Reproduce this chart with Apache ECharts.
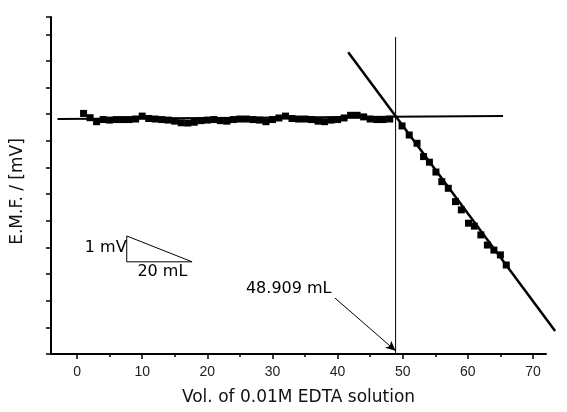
<!DOCTYPE html>
<html>
<head>
<meta charset="utf-8">
<script src="https://cdn.jsdelivr.net/npm/echarts@6/dist/echarts.min.js"></script>
<style>
  html, body { margin: 0; padding: 0; background: #fff; }
  #chart { width: 567px; height: 412px; }
</style>
</head>
<body>
<div id="chart"></div>
<script>
// Titration readings: volume of EDTA added (mL) and relative E.M.F. (mV)
const plateauVol = [1, 2, 3, 4, 5, 6, 7, 8, 9, 10, 11, 12, 13, 14, 15, 16, 17, 18, 19, 20,
  21, 22, 23, 24, 25, 26, 27, 28, 29, 30, 31, 32, 33, 34, 35, 36, 37, 38, 39, 40,
  41, 42, 43, 44, 45, 46, 47, 48];
const plateauEmf = [9.03, 8.87, 8.72, 8.80, 8.78, 8.80, 8.80, 8.80, 8.82, 8.93,
  8.84, 8.82, 8.80, 8.78, 8.74, 8.68, 8.67, 8.70, 8.76, 8.78,
  8.80, 8.76, 8.74, 8.80, 8.82, 8.82, 8.80, 8.78, 8.72, 8.80,
  8.86, 8.93, 8.84, 8.82, 8.82, 8.80, 8.74, 8.72, 8.78, 8.80,
  8.86, 8.96, 8.96, 8.90, 8.82, 8.80, 8.80, 8.82];
const fallVol = [49.9, 51.0, 52.2, 53.2, 54.1, 55.1, 56.0, 57.0, 58.1, 59.0,
  60.1, 61.0, 62.0, 63.0, 64.0, 65.0, 65.9];
const fallEmf = [8.56, 8.22, 7.91, 7.41, 7.20, 6.83, 6.47, 6.22, 5.72, 5.41,
  4.91, 4.80, 4.47, 4.09, 3.90, 3.72, 3.34];

// Fitted straight lines before and after the end point
const plateauFit = [[-3, 8.82], [65.4, 8.93]];
const fallFit = [[41.63, 11.33], [73.4, 0.86]];

// End point
const endPointVol = 48.909;
const endPointLine = [[endPointVol, 0], [endPointVol, 11.9]];
const endPointArrow = [[39.6, 2.1], [endPointVol, 0.12]];
const endPointLabel = [32.5, 2.45, '48.909 mL'];

// Scale triangle
const scaleTriangle = [[7.63, 4.43], [7.63, 3.46], [17.66, 3.46], [7.63, 4.43]];
const scaleLabels = [[4.4, 3.97, '1 mV'], [13.1, 3.09, '20 mL']];

// Axis ticks
const xMajorTicks = [0, 10, 20, 30, 40, 50, 60, 70];
const xMinorTicks = [5, 15, 25, 35, 45, 55, 65];
const yTicks = [0, 1, 2, 3, 4, 5, 6, 7, 8, 9, 10, 11, 12, 12.65];

const pair = (xs, ys) => xs.map((x, i) => [x, ys[i]]);
const black = '#000';
const font = 'DejaVu Sans';

// Plot area geometry; a second, wider overlay grid keeps the same mL/px scale
// so the fitted descending line can run past the end of the drawn axis.
const W = 567, H = 412;
const plot = { left: 51, right: 21, top: 17, bottom: 58 };
const xMin = -4, xMax = 72, yMax = 12.65;
const mlPerPx = (xMax - xMin) / (W - plot.left - plot.right);
const overlayMax = xMin + (W - plot.left) * mlPerPx;

const hiddenAxis = {
  axisLine: { show: false }, axisTick: { show: false },
  axisLabel: { show: false }, splitLine: { show: false }
};

const chart = echarts.init(document.getElementById('chart'), null, { renderer: 'canvas' });

chart.setOption({
  animation: false,
  backgroundColor: '#fff',
  grid: [
    Object.assign({ containLabel: false }, plot),
    { left: plot.left, right: 0, top: plot.top, bottom: plot.bottom, containLabel: false }
  ],
  xAxis: [{
    type: 'value', min: xMin, max: xMax,
    name: 'Vol. of 0.01M EDTA solution',
    nameLocation: 'middle', nameGap: 35,
    nameTextStyle: { fontFamily: font, fontSize: 17, color: '#111' },
    axisLine: { show: true, onZero: false, lineStyle: { color: black, width: 2 } },
    axisTick: { show: true, customValues: xMajorTicks, length: 5, lineStyle: { color: black, width: 1.5 } },
    axisLabel: { show: true, customValues: xMajorTicks, margin: 11,
      fontFamily: 'Liberation Sans', fontSize: 14, color: '#222' },
    splitLine: { show: false }
  }, {
    type: 'value', min: xMin, max: xMax, position: 'bottom',
    axisLine: { show: false },
    axisTick: { show: true, customValues: xMinorTicks, length: 3, lineStyle: { color: black, width: 1.5 } },
    axisLabel: { show: false },
    splitLine: { show: false }
  }, Object.assign({
    type: 'value', gridIndex: 1, min: xMin, max: overlayMax
  }, hiddenAxis)],
  yAxis: [{
    type: 'value', min: 0, max: yMax,
    name: 'E.M.F. / [mV]',
    nameLocation: 'middle', nameGap: 25, nameRotate: 90,
    nameTextStyle: { fontFamily: font, fontSize: 17, color: '#111', padding: [0, 0, 0, -12] },
    axisLine: { show: true, onZero: false, lineStyle: { color: black, width: 2 } },
    axisTick: { show: true, customValues: yTicks, length: 5, lineStyle: { color: black, width: 1.5 } },
    axisLabel: { show: false },
    splitLine: { show: false }
  }, Object.assign({
    type: 'value', gridIndex: 1, min: 0, max: yMax
  }, hiddenAxis)],
  series: [
    {
      type: 'line', data: plateauFit, showSymbol: false, silent: true, clip: false,
      lineStyle: { color: black, width: 2 }
    },
    {
      type: 'line', data: fallFit, xAxisIndex: 2, yAxisIndex: 1,
      showSymbol: false, silent: true, clip: false,
      lineStyle: { color: black, width: 2.5 }
    },
    {
      type: 'line', data: endPointLine, showSymbol: false, silent: true,
      lineStyle: { color: black, width: 1 },
      markLine: {
        silent: true, symbol: ['none', 'arrow'], symbolSize: [7, 10],
        label: { show: false },
        lineStyle: { color: black, width: 1, type: 'solid' },
        data: [[{ coord: endPointArrow[0] }, { coord: endPointArrow[1] }]]
      }
    },
    {
      type: 'line', data: scaleTriangle, showSymbol: false, silent: true,
      lineStyle: { color: black, width: 1 }
    },
    {
      type: 'scatter', data: pair(plateauVol, plateauEmf).concat(pair(fallVol, fallEmf)),
      symbol: 'rect', symbolSize: 7, silent: true,
      itemStyle: { color: black, opacity: 1 }
    },
    {
      type: 'scatter', silent: true, symbolSize: 0,
      data: [endPointLabel].concat(scaleLabels).map(d => ({ value: [d[0], d[1]], name: d[2] })),
      itemStyle: { opacity: 1 },
      label: {
        show: true, position: 'inside', formatter: p => p.name, opacity: 1,
        fontFamily: font, fontSize: 16, color: '#000'
      }
    }
  ]
});
</script>
</body>
</html>
